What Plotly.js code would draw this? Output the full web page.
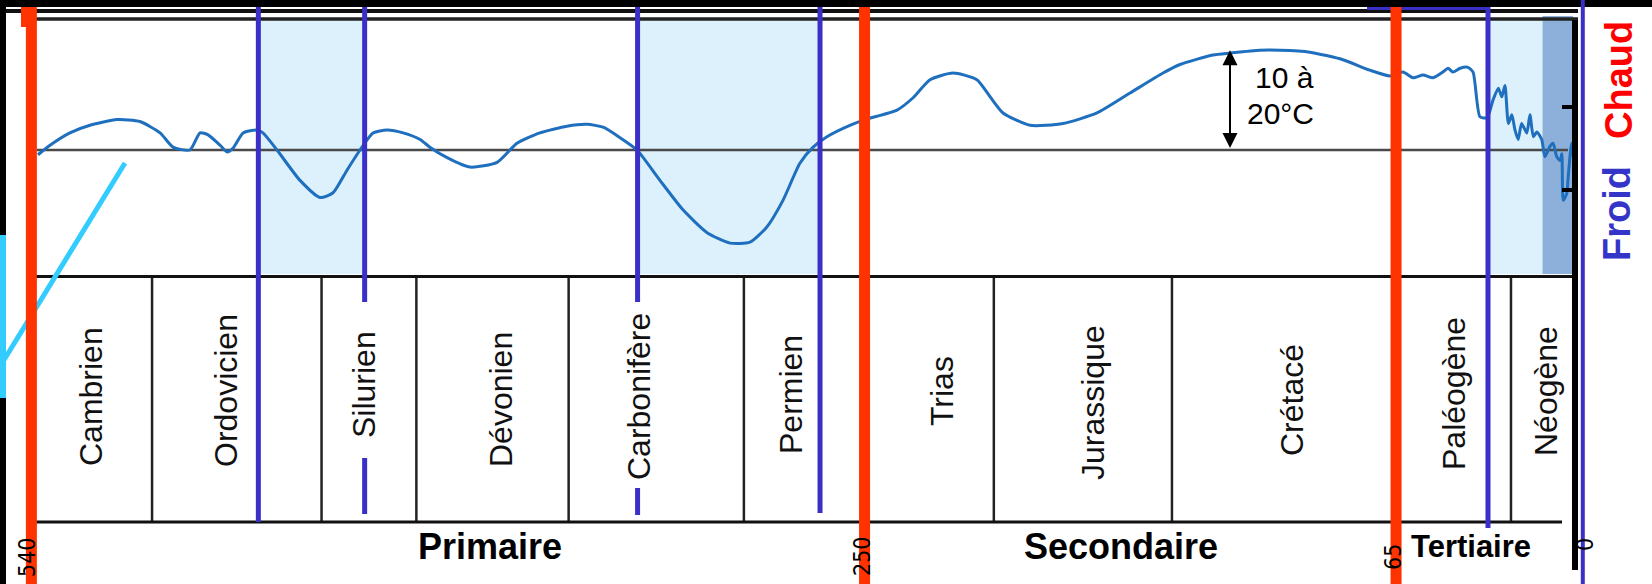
<!DOCTYPE html>
<html><head><meta charset="utf-8">
<script src="https://cdn.plot.ly/plotly-3.0.1.min.js"></script>
<style>html,body{margin:0;padding:0;background:#fff;}#chart{width:1652px;height:584px;}</style>
</head><body><div id="chart"></div>
<script>
// ---------- DATA ----------
// Age in millions of years (Ma) and relative temperature (°C vs present baseline)
const ageMa = [537.7,533.5,526.6,519.6,510.2,502.2,495.2,490.7,484.8,481.3,478.5,474.3,471.9,469.8,466.3,461.5,459.4,454.5,446.5,439.5,435.0,430.1,425.6,421.1,416.2,410.6,404.7,401.3,395.3,387.3,377.9,371.0,363.0,353.6,346.6,341.0,335.1,329.2,321.2,313.2,304.8,296.8,289.9,284.0,278.4,272.5,267.9,263.1,255.1,249.8,238.7,233.1,227.2,219.2,210.9,206.3,201.8,192.4,180.9,169.1,157.6,146.1,140.2,128.7,122.8,112.4,105.4,95.0,83.5,74.1,67.1,62.6,59.1,55.6,52.1,48.7,46.9,45.2,42.7,40.0,38.2,35.8,33.3,31.2,29.4,28.2,27.1,25.9,24.7,23.6,22.5,21.3,19.5,18.4,17.2,16.0,14.3,13.2,11.4,10.3,9.1,7.9,7.3,6.8,5.6,5.0,3.9,3.3];
const tempAnomaly = [-0.5,0.5,1.8,2.6,3.2,3.0,1.8,0.3,0.0,1.8,1.6,0.5,-0.2,0.2,1.8,2.1,1.8,0.0,-3.2,-5.0,-4.5,-2.1,0.0,1.8,2.1,1.8,1.1,0.3,-0.8,-1.8,-1.3,0.7,1.8,2.5,2.7,2.4,1.3,0.0,-3.2,-6.3,-8.7,-9.8,-9.7,-8.1,-5.3,-1.4,0.3,1.4,2.6,3.2,4.2,5.5,7.4,8.1,7.4,5.6,3.9,2.6,2.8,3.9,6.0,8.1,9.0,10.0,10.2,10.5,10.5,10.3,9.5,8.4,7.8,8.2,7.6,7.9,7.6,8.2,8.6,8.2,8.6,8.7,8.2,3.5,3.4,5.3,6.5,5.6,6.8,2.8,3.7,2.1,1.1,2.8,1.8,3.7,1.4,1.9,1.1,-0.7,0.4,0.7,-0.7,-1.1,-0.4,-5.3,-4.6,-2.5,0.7,-0.7];

const periodNames = ['Cambrien','Ordovicien','Silurien','Dévonien','Carbonifère','Permien','Trias','Jurassique','Crétacé','Paléogène','Néogène'];
const periodBounds = [540,498,439,406,353,292,250,205,143,65,25,0];
const eraNames = ['Primaire','Secondaire','Tertiaire'];
const eraBounds = [540,250,65,0];
const ageTicks = [540,250,65,0];
const glacStart = [461,329,33];
const glacEnd = [424,265.5,0];
const intenseStart = 14;
const warmRangeText = ['10 à','20°C'];

// ---------- LAYOUT GEOMETRY ----------
const W = 1652, H = 584;
const X0 = 1582.8, KX = 2.873;   // pixel of 0 Ma, px per Ma
const Y0 = 150, KY = 9.5;        // pixel of baseline, px per °C
const ma = px => (X0 - px) / KX;
const tv = py => (Y0 - py) / KY;

// label placement (centre of text, in px)
const periodLabelX = [91,226,364,501,639,791,942,1093,1292,1454,1546];
const periodLabelY = [397,391,385,400,397,395,391,403,400,394,391];
const eraLabelX = [490,1121,1471];
const tickLabelPos = {540:[27,557],250:[862,556],65:[1393,557],0:[1585,545]};
const blueSegs = {461:[[7,522]],424:[[7,302],[458,514]],329:[[7,302],[488,515]],265.5:[[7,513]],33:[[7,528]],0:[[0,584]]};

const RED = '#ff3300', BLUE = '#3a30c8', CYAN = '#33ccff';
const FONT = 'Liberation Sans, Arial, sans-serif';

function line(px0,py0,px1,py1,color,w,layer){
  return {type:'line',xref:'x',yref:'y',x0:ma(px0),x1:ma(px1),y0:tv(py0),y1:tv(py1),line:{color:color,width:w},layer:layer||'above'};
}
function vlineMa(a,py0,py1,color,w,layer){
  return {type:'line',xref:'x',yref:'y',x0:a,x1:a,y0:tv(py0),y1:tv(py1),line:{color:color,width:w},layer:layer||'above'};
}
function rect(px0,py0,px1,py1,color,layer){
  return {type:'rect',xref:'x',yref:'y',x0:ma(px0),x1:ma(px1),y0:tv(py0),y1:tv(py1),fillcolor:color,line:{width:0},layer:layer||'above'};
}

const shapes = [];
// glaciation shading
for (let i=0;i<glacStart.length;i++){
  shapes.push({type:'rect',xref:'x',yref:'y',x0:glacStart[i],x1:Math.max(glacEnd[i],ma(1573)),y0:tv(18),y1:tv(274),fillcolor:'#dcf1fb',line:{width:0},layer:'below'});
}
shapes.push({type:'rect',xref:'x',yref:'y',x0:intenseStart,x1:ma(1573),y0:tv(16),y1:tv(274),fillcolor:'#8db0da',line:{width:0},layer:'below'});
// baseline
shapes.push({type:'line',xref:'x',yref:'y',x0:ma(37),x1:ma(1568),y0:0,y1:0,line:{color:'#4a4a4a',width:2.5},layer:'below'});

// period separators (skip the ones drawn in red / frame)
periodBounds.forEach(b=>{ if(eraBounds.indexOf(b)<0) shapes.push(vlineMa(b,278,521,'#222',2.5)); });
// lower panel frame
shapes.push(line(31,276.5,1575,276.5,'#111',3));
shapes.push(line(31,522,1562,522,'#111',3));
// top frame lines
shapes.push(line(6,11,1578,11,'#111',4));
shapes.push(line(33,19,1578,19,'#222',3.5));
// top black band
shapes.push({type:'rect',xref:'paper',yref:'paper',x0:0,x1:1,y0:1-7/H,y1:1,fillcolor:'#000',line:{width:0},layer:'above'});
// left strip
shapes.push(rect(0,0,6,235,'#000'));
shapes.push(rect(0,235,6,398,CYAN));
shapes.push(rect(0,398,6,584,'#000'));
shapes.push(line(125,163,4,360,CYAN,5));
// blue glaciation boundaries
glacStart.concat(glacEnd).forEach(a=>{
  (blueSegs[a]||[[7,522]]).forEach(s=>shapes.push(vlineMa(a,s[0],s[1],BLUE,a===0?4:5)));
});
shapes.push(line(1367,8.5,1490,8.5,BLUE,3));
// right axis
shapes.push(line(1575,20,1575,570,'#000',6));
shapes.push(line(1562,107,1575,107,'#000',4));
shapes.push(line(1562,190,1575,190,'#000',4));
// red era boundaries
eraBounds.filter(b=>b>0).forEach(b=>shapes.push(vlineMa(b,7,584,RED,11)));
shapes.push(rect(21,7,33,27,RED));

// ---------- ANNOTATIONS ----------
const ann = [];
periodNames.forEach((n,i)=>{
  ann.push({x:ma(periodLabelX[i]),y:tv(periodLabelY[i]),xref:'x',yref:'y',text:n,showarrow:false,textangle:-90,
    xanchor:'center',yanchor:'middle',font:{family:FONT,size:32,color:'#111'}});
});
eraNames.forEach((n,i)=>{
  ann.push({x:ma(eraLabelX[i]),y:tv(546),xref:'x',yref:'y',text:'<b>'+n+'</b>',showarrow:false,
    xanchor:'center',yanchor:'middle',font:{family:FONT,size:i===2?31:36,color:'#000'}});
});
ageTicks.forEach(t=>{
  const p = tickLabelPos[t];
  ann.push({x:ma(p[0]),y:tv(p[1]),xref:'x',yref:'y',text:String(t),showarrow:false,textangle:-90,
    xanchor:'center',yanchor:'middle',font:{family:'Liberation Sans Narrow, DejaVu Sans Condensed, Arial Narrow, sans-serif',size:23,color:'#000'}});
});
// warm amplitude arrow
const tTop = Math.max.apply(null, tempAnomaly.slice(0,70));
ann.push({x:ma(1230),y:tTop,xref:'x',yref:'y',ax:ma(1230),ay:0,axref:'x',ayref:'y',text:' ',showarrow:true,
  arrowhead:2,startarrowhead:2,arrowside:'end+start',arrowsize:1.5,startarrowsize:1.5,arrowwidth:2,arrowcolor:'#000',font:{size:1}});
ann.push({x:ma(1284),y:tv(77.5),xref:'x',yref:'y',text:warmRangeText[0],showarrow:false,xanchor:'center',yanchor:'middle',font:{family:FONT,size:30,color:'#000'}});
ann.push({x:ma(1280),y:tv(113),xref:'x',yref:'y',text:warmRangeText[1],showarrow:false,xanchor:'center',yanchor:'middle',font:{family:FONT,size:30,color:'#000'}});
// Chaud / Froid
ann.push({x:ma(1619),y:tv(80),xref:'x',yref:'y',text:'<b>Chaud</b>',showarrow:false,textangle:-90,xanchor:'center',yanchor:'middle',font:{family:FONT,size:38,color:'#ff0000'}});
ann.push({x:ma(1617),y:tv(214),xref:'x',yref:'y',text:'<b>Froid</b>',showarrow:false,textangle:-90,xanchor:'center',yanchor:'middle',font:{family:FONT,size:38,color:'#3434c8'}});

const trace = {x:ageMa,y:tempAnomaly,type:'scatter',mode:'lines',line:{color:'#1f6fbf',width:3,shape:'spline',smoothing:0.6},hoverinfo:'skip'};

const layout = {
  width:W,height:H,margin:{l:0,r:0,t:0,b:0},paper_bgcolor:'#fff',plot_bgcolor:'#fff',showlegend:false,
  xaxis:{range:[ma(0),ma(W)],visible:false,showgrid:false,zeroline:false},
  yaxis:{range:[tv(H),tv(0)],visible:false,showgrid:false,zeroline:false},
  shapes:shapes,annotations:ann
};
Plotly.newPlot('chart',[trace],layout,{staticPlot:true,displayModeBar:false});
</script></body></html>
